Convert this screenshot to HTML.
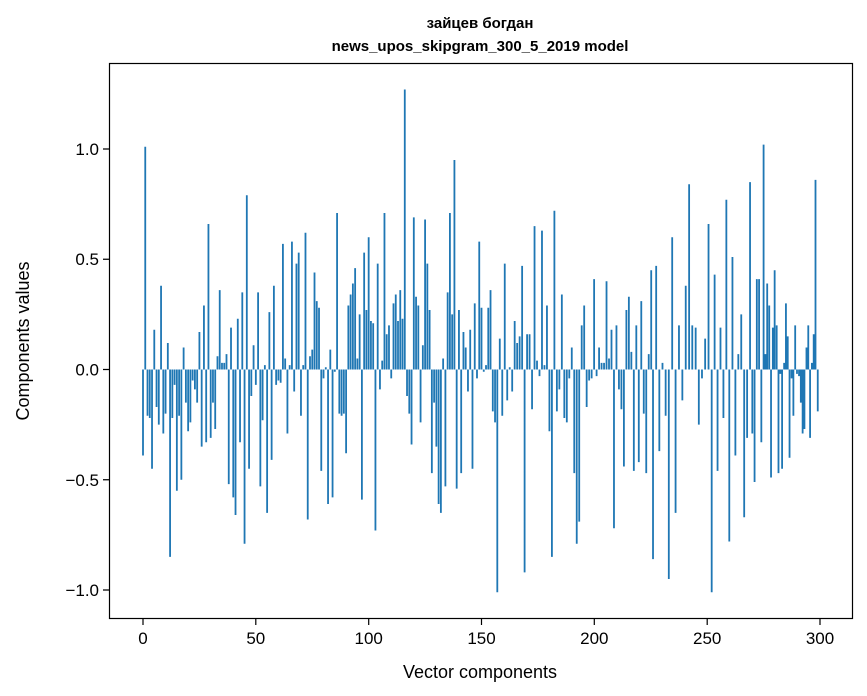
<!DOCTYPE html>
<html><head><meta charset="utf-8"><style>
html,body{margin:0;padding:0;background:#fff;}
svg{display:block;font-family:"Liberation Sans","DejaVu Sans",sans-serif;}
</style></head><body>
<svg width="867" height="696" xmlns="http://www.w3.org/2000/svg">
<rect width="867" height="696" fill="#fff"/>
<g transform="translate(143,369.5) scale(2.2567,-220.5)">
<path fill="none" stroke="#1f77b4" stroke-width="0.8" d="
M0 0V-0.39 M1 0V1.01 M2 0V-0.21 M3 0V-0.22 M4 0V-0.45 M5 0V0.18 M6 0V-0.17 M7 0V-0.25 M8 0V0.38 M9 0V-0.29
M10 0V-0.2 M11 0V0.12 M12 0V-0.85 M13 0V-0.22 M14 0V-0.07 M15 0V-0.55 M16 0V-0.21 M17 0V-0.5 M18 0V0.1 M19 0V-0.15
M20 0V-0.28 M21 0V-0.24 M22 0V-0.05 M23 0V-0.09 M24 0V-0.15 M25 0V0.17 M26 0V-0.35 M27 0V0.29 M28 0V-0.33 M29 0V0.66
M30 0V-0.31 M31 0V-0.15 M32 0V-0.27 M33 0V0.06 M34 0V0.36 M35 0V0.03 M36 0V0.03 M37 0V0.07 M38 0V-0.52 M39 0V0.19
M40 0V-0.58 M41 0V-0.66 M42 0V0.23 M43 0V-0.33 M44 0V0.35 M45 0V-0.79 M46 0V0.79 M47 0V-0.45 M48 0V-0.12 M49 0V0.11
M50 0V-0.07 M51 0V0.35 M52 0V-0.53 M53 0V-0.23 M54 0V0.02 M55 0V-0.65 M56 0V0.26 M57 0V-0.41 M58 0V0.38 M59 0V-0.07
M60 0V-0.05 M61 0V-0.06 M62 0V0.57 M63 0V0.05 M64 0V-0.29 M65 0V0.02 M66 0V0.58 M67 0V-0.1 M68 0V0.48 M69 0V0.53
M70 0V-0.21 M71 0V0.02 M72 0V0.62 M73 0V-0.68 M74 0V0.06 M75 0V0.09 M76 0V0.44 M77 0V0.31 M78 0V0.28 M79 0V-0.46
M80 0V-0.04 M81 0V0.01 M82 0V-0.61 M83 0V0.09 M84 0V-0.58 M85 0V-0.01 M86 0V0.71 M87 0V-0.2 M88 0V-0.21 M89 0V-0.2
M90 0V-0.38 M91 0V0.29 M92 0V0.34 M93 0V0.39 M94 0V0.46 M95 0V0.05 M96 0V0.25 M97 0V-0.59 M98 0V0.53 M99 0V0.27
M100 0V0.6 M101 0V0.22 M102 0V0.21 M103 0V-0.73 M104 0V0.48 M105 0V-0.09 M106 0V0.04 M107 0V0.71 M108 0V0.16 M109 0V0.2
M110 0V-0.04 M111 0V0.3 M112 0V0.34 M113 0V0.22 M114 0V0.36 M115 0V0.23 M116 0V1.27 M117 0V-0.12 M118 0V-0.2 M119 0V-0.34
M120 0V0.69 M121 0V0.33 M122 0V0.29 M123 0V-0.24 M124 0V0.11 M125 0V0.68 M126 0V0.48 M127 0V0.27 M128 0V-0.47 M129 0V-0.15
M130 0V-0.35 M131 0V-0.61 M132 0V-0.65 M133 0V0.05 M134 0V-0.53 M135 0V0.35 M136 0V0.71 M137 0V0.25 M138 0V0.95 M139 0V-0.54
M140 0V0.27 M141 0V-0.47 M142 0V0.17 M143 0V0.1 M144 0V-0.1 M145 0V0.18 M146 0V-0.45 M147 0V0.3 M148 0V-0.04 M149 0V0.58
M150 0V0.28 M151 0V-0.01 M152 0V0.02 M153 0V0.28 M154 0V0.36 M155 0V-0.19 M156 0V-0.24 M157 0V-1.01
M158.1 0V0.14 M159.2 0V-0.21 M160.3 0V0.48 M161.4 0V-0.14 M162.5 0V0.01 M163.6 0V-0.1 M164.7 0V0.22 M165.8 0V0.12 M166.9 0V0.15 M168 0V0.47
M169.1 0V-0.92 M170.2 0V0.16 M171.3 0V0.16 M172.4 0V-0.18 M173.5 0V0.65 M174.6 0V0.04 M175.7 0V-0.03 M176.8 0V0.63 M177.9 0V0.02 M179 0V0.29
M180.1 0V-0.28 M181.2 0V-0.85 M182.3 0V0.72 M183.4 0V-0.19 M184.5 0V-0.09 M185.6 0V0.34 M186.7 0V-0.22 M187.8 0V-0.24 M188.9 0V-0.04 M190 0V0.1
M191.1 0V-0.47 M192.2 0V-0.79 M193.3 0V-0.69 M194.4 0V0.2 M195.5 0V0.29 M196.6 0V-0.17 M197.7 0V-0.05 M198.8 0V-0.04 M199.9 0V0.41 M201 0V-0.03
M202.1 0V0.1 M203.2 0V0.03 M204.3 0V0.03 M205.4 0V0.4 M206.5 0V0.05 M207.6 0V0.18 M208.7 0V-0.72 M209.8 0V0.2 M210.9 0V-0.09 M212 0V-0.18
M213.1 0V-0.44 M214.2 0V0.27 M215.3 0V0.33 M216.4 0V0.08 M217.5 0V-0.46 M218.6 0V0.2 M219.7 0V-0.42 M220.8 0V0.31 M221.9 0V-0.2 M223 0V-0.47
M224.1 0V0.07 M225.2 0V0.45 M226 0V-0.86 M227.4 0V0.47 M228.8 0V-0.37 M230.2 0V0.03 M231.6 0V-0.21 M233 0V-0.95 M234.5 0V0.6 M236 0V-0.65
M237.5 0V0.2 M239 0V-0.14 M240.5 0V0.38 M242 0V0.84 M243.4 0V0.2 M244.9 0V0.19 M246.3 0V-0.25 M247.7 0V-0.04 M249.1 0V0.14 M250.6 0V0.66
M252 0V-1.01 M253.3 0V0.43 M254.6 0V-0.46 M255.9 0V0.19 M257.2 0V-0.22 M258.5 0V0.77 M259.8 0V-0.78 M261.2 0V0.51 M262.5 0V-0.39 M263.8 0V0.07
M265.1 0V0.25 M266.4 0V-0.67 M267.7 0V-0.31 M269 0V0.85 M270 0V-0.29 M271 0V-0.51 M272 0V0.41 M273 0V0.41 M274 0V-0.33 M275 0V1.02
M275.8 0V0.07 M276.6 0V0.39 M277.5 0V0.29 M278.3 0V-0.49 M279.1 0V0.19 M279.9 0V0.45 M280.8 0V0.2 M281.6 0V-0.47 M282.4 0V-0.02 M283.2 0V-0.45
M284.1 0V0.03 M284.9 0V0.3 M285.7 0V0.15 M286.5 0V-0.4 M287.4 0V-0.04 M288.2 0V-0.21 M289 0V0.2 M289.8 0V-0.02 M290.7 0V-0.03 M291.5 0V-0.15
M292.3 0V-0.29 M293.1 0V-0.27 M294 0V0.1 M294.8 0V0.2 M295.6 0V-0.31 M296.4 0V0.03 M297.2 0V0.16 M298 0V0.86 M299 0V-0.19"/>
</g>
<rect x="109.5" y="63.5" width="743" height="555" fill="none" stroke="#000" stroke-width="1.2"/>
<g stroke="#000" stroke-width="1.2">
<path d="M143 619V625M255.8 619V625M368.7 619V625M481.5 619V625M594.3 619V625M707.2 619V625M820 619V625"/>
<path d="M103 149H109M103 259.25H109M103 369.5H109M103 479.75H109M103 590H109"/>
</g>
<g font-size="17" fill="#000" text-anchor="middle">
<text x="143" y="644">0</text><text x="255.8" y="644">50</text><text x="368.7" y="644">100</text><text x="481.5" y="644">150</text><text x="594.3" y="644">200</text><text x="707.2" y="644">250</text><text x="820" y="644">300</text>
</g>
<g font-size="17" fill="#000" text-anchor="end">
<text x="99" y="155">1.0</text><text x="99" y="265">0.5</text><text x="99" y="375.5">0.0</text><text x="99" y="486">−0.5</text><text x="99" y="596">−1.0</text>
</g>
<text x="480" y="28" text-anchor="middle" font-size="15" font-weight="bold">зайцев богдан</text>
<text x="480" y="51" text-anchor="middle" font-size="15" font-weight="bold">news_upos_skipgram_300_5_2019 model</text>
<text x="480" y="678" text-anchor="middle" font-size="18">Vector components</text>
<text transform="translate(29,341) rotate(-90)" text-anchor="middle" font-size="18">Components values</text>
</svg>
</body></html>
